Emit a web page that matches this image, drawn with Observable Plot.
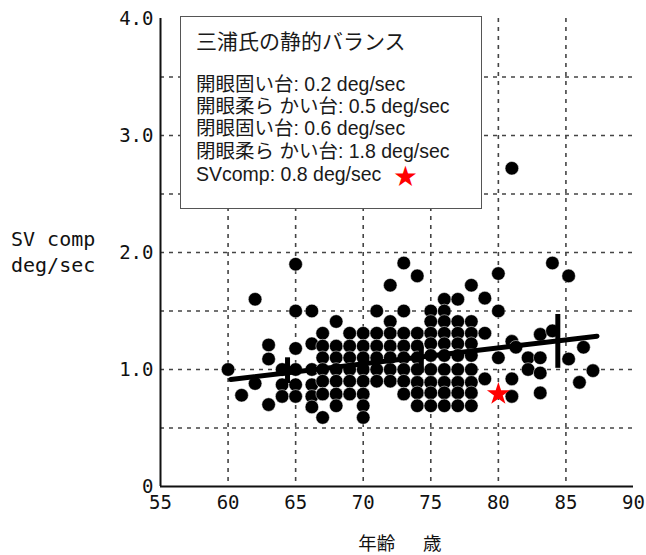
<!DOCTYPE html>
<html><head><meta charset="utf-8">
<script src="https://cdn.jsdelivr.net/npm/d3@7"></script>
<script src="https://cdn.jsdelivr.net/npm/@observablehq/plot@0.6"></script>
<style>
body{margin:0;background:#fff;}
#wrap{position:relative;width:646px;height:555px;overflow:hidden;}
#legend{position:absolute;left:180px;top:16px;width:300px;height:191px;border:1.5px solid #555;background:#fff;box-sizing:content-box;font-family:"Liberation Sans","Noto Sans CJK JP",sans-serif;color:#1a1a1a;}
#legend .title{position:absolute;left:15px;top:9.5px;font-size:21px;line-height:26px;white-space:nowrap;font-family:"Noto Sans CJK JP",sans-serif;}
#legend .row{position:absolute;left:15px;font-size:19.5px;line-height:22px;white-space:nowrap;}
#legend .star{position:absolute;left:213px;top:146px;color:#f00;font-size:23px;line-height:22px;font-family:"Noto Sans CJK JP",sans-serif;}
</style></head>
<body><div id="wrap"></div>
<script>
// tick values / labels
const xTicks = [55, 60, 65, 70, 75, 80, 85, 90];
const yTicks = [0, 1, 2, 3, 4];
const yTickLabels = ["0", "1.0", "2.0", "3.0", "4.0"];
const xGrid = [60, 65, 70, 75, 80, 85];
const yGrid = [0.5, 1, 1.5, 2, 2.5, 3, 3.5];

// scatter points (age, SV comp deg/sec)
const pointAge = [
  60, 61, 62, 62, 63, 63, 63, 64, 64, 64,
  65, 65, 65, 65, 65, 65,
  66.2, 66.2, 66.2, 66.2, 66.2, 66.2,
  67, 67, 67, 67, 67, 67, 67,
  68, 68, 68, 68, 68, 68, 68,
  69, 69, 69, 69, 69, 69,
  70, 70, 70, 70, 70, 70, 70, 70,
  71, 71, 71, 71, 71, 71,
  72, 72, 72, 72, 72, 72, 72,
  73, 73, 73, 73, 73, 73, 73, 73,
  74, 74, 74, 74, 74, 74, 74, 74,
  75, 75, 75, 75, 75, 75, 75, 75, 75,
  76, 76, 76, 76, 76, 76, 76, 76, 76, 76,
  77, 77, 77, 77, 77, 77, 77, 77, 77,
  78, 78, 78, 78, 78, 78, 78, 78, 78,
  79, 79, 79,
  80, 80, 80,
  81, 81, 81, 81, 81.3,
  82.2, 82.2,
  83.1, 83.1, 83.1, 83.1,
  84, 84,
  85.2, 85.2,
  86.3, 86, 87
];
const pointSV = [
  1.0, 0.78, 1.6, 0.88, 1.21, 1.09, 0.70, 1.0, 0.87, 0.77,
  1.9, 1.5, 1.18, 1.0, 0.87, 0.77,
  1.5, 1.22, 1.0, 0.87, 0.77, 0.68,
  1.31, 1.2, 1.1, 1.0, 0.9, 0.79, 0.59,
  1.41, 1.2, 1.1, 1.0, 0.9, 0.79, 0.69,
  1.31, 1.2, 1.1, 1.0, 0.9, 0.79,
  1.31, 1.2, 1.1, 1.0, 0.9, 0.79, 0.69, 0.59,
  1.5, 1.31, 1.2, 1.1, 1.0, 0.9,
  1.72, 1.41, 1.31, 1.2, 1.1, 1.0, 0.9,
  1.91, 1.5, 1.31, 1.2, 1.1, 1.0, 0.9, 0.79,
  1.8, 1.31, 1.2, 1.1, 1.0, 0.89, 0.8, 0.69,
  1.5, 1.41, 1.31, 1.22, 1.12, 1.0, 0.89, 0.8, 0.69,
  1.6, 1.5, 1.41, 1.31, 1.22, 1.12, 1.0, 0.89, 0.8, 0.69,
  1.6, 1.41, 1.31, 1.22, 1.12, 1.0, 0.89, 0.8, 0.69,
  1.72, 1.41, 1.31, 1.22, 1.12, 1.0, 0.89, 0.8, 0.69,
  1.61, 1.31, 0.92,
  1.82, 1.5, 1.1,
  2.72, 1.24, 0.92, 0.77, 1.19,
  1.1, 1.0,
  1.3, 1.1, 0.97, 0.8,
  1.91, 1.33,
  1.8, 1.09,
  1.19, 0.89, 0.99
];

// regression line
const lineAge = [60.2, 87.3];
const lineSV = [0.915, 1.285];

// vertical bars
const barAge = [64.4, 74.3, 84.4];
const barLow = [0.88, 0.97, 1.01];
const barHigh = [1.1, 1.19, 1.47];

// Miura's SVcomp
const starAge = [80];
const starSV = [0.79];

const points = pointAge.map((a, i) => ({age: a, sv: pointSV[i]}));
const line = lineAge.map((a, i) => ({age: a, sv: lineSV[i]}));
const bars = barAge.map((a, i) => ({age: a, lo: barLow[i], hi: barHigh[i]}));
const star = starAge.map((a, i) => ({age: a, sv: starSV[i]}));

const chart = Plot.plot({
  width: 646,
  height: 555,
  marginLeft: 160,
  marginRight: 13,
  marginTop: 18,
  marginBottom: 69,
  style: {fontFamily: "'DejaVu Sans Mono', monospace", fontSize: "19px", color: "#111", background: "#fff"},
  x: {domain: [55, 90], ticks: xTicks, tickSize: 0, tickPadding: 9, label: null, tickFormat: d => String(d)},
  y: {domain: [0, 4], ticks: yTicks, tickSize: 0, tickPadding: 7, label: null,
      tickFormat: d => yTickLabels[yTicks.indexOf(d)]},
  marks: [
    Plot.ruleX(xGrid, {stroke: "#444", strokeWidth: 1.6, strokeDasharray: "4,5"}),
    Plot.ruleY(yGrid, {stroke: "#444", strokeWidth: 1.6, strokeDasharray: "4,5"}),
    Plot.ruleX([55], {stroke: "#111", strokeWidth: 2}),
    Plot.ruleY([0], {stroke: "#111", strokeWidth: 2}),
    Plot.dot(points, {x: "age", y: "sv", r: 6.8, fill: "#000", stroke: "#fff", strokeWidth: 0.5}),
    Plot.line(line, {x: "age", y: "sv", stroke: "#000", strokeWidth: 5}),
    Plot.ruleX(bars, {x: "age", y1: "lo", y2: "hi", stroke: "#000", strokeWidth: 5}),
    Plot.dot(star, {x: "age", y: "sv", symbol: "star", r: 7.2, fill: "#f00", stroke: "none"})
  ]
});

const wrap = document.getElementById("wrap");
wrap.appendChild(chart);

const svg = d3.select(chart);
const yl = svg.append("text")
  .attr("text-anchor", "start")
  .attr("font-family", "'DejaVu Sans Mono', monospace")
  .attr("font-size", 20)
  .attr("fill", "#111");
yl.append("tspan").attr("x", 11).attr("y", 246).text("SV comp");
yl.append("tspan").attr("x", 11).attr("y", 272).text("deg/sec");

svg.append("text")
  .attr("x", 400).attr("y", 550)
  .attr("text-anchor", "middle")
  .attr("font-family", "'Noto Sans CJK JP', sans-serif")
  .attr("font-size", 18.5)
  .attr("fill", "#111")
  .text("年齢\u3000\u2002歳");

const legend = document.createElement("div");
legend.id = "legend";
legend.innerHTML = `
  <div class="title">三浦氏の静的バランス</div>
  <div class="row" style="top:55.5px">開眼固い台: 0.2 deg/sec</div>
  <div class="row" style="top:77.5px">開眼柔ら かい台: 0.5 deg/sec</div>
  <div class="row" style="top:99.5px">閉眼固い台: 0.6 deg/sec</div>
  <div class="row" style="top:122.5px">閉眼柔ら かい台: 1.8 deg/sec</div>
  <div class="row" style="top:145.5px">SVcomp: 0.8 deg/sec</div>
  <div class="star">★</div>`;
wrap.appendChild(legend);
</script>
</body></html>
